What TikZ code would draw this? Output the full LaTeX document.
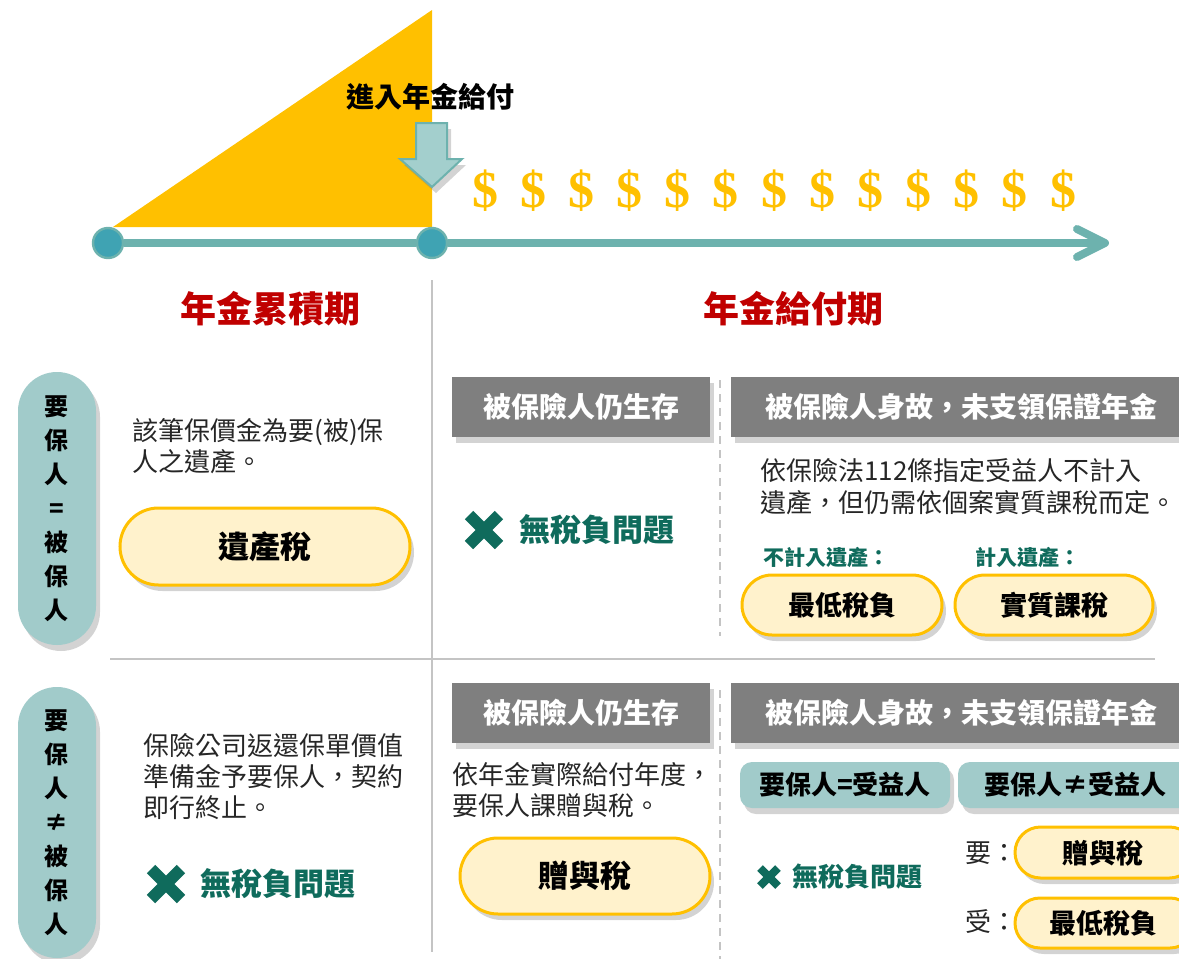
\documentclass[tikz,border=0pt]{standalone}
\usepackage{fontspec}
\setmainfont{Noto Sans CJK TC}
\newfontfamily\dollarfont{Liberation Serif}
\usetikzlibrary{shadows,shapes.misc}
\definecolor{gold}{HTML}{FFC000}
\definecolor{tline}{HTML}{6DB2AE}
\definecolor{tdot}{HTML}{3FA3B3}
\definecolor{afill}{HTML}{A3CFCD}
\definecolor{pteal}{HTML}{A1CBCA}
\definecolor{cream}{HTML}{FFF2CC}
\definecolor{hdr}{HTML}{7F7F7F}
\definecolor{hred}{HTML}{C00000}
\definecolor{dgreen}{HTML}{0F6B5C}
\definecolor{txt}{HTML}{262626}
\definecolor{sep}{HTML}{C4C4C4}
\tikzset{
  shd/.style={drop shadow={opacity=0.35,shadow xshift=2pt,shadow yshift=-3pt}},
  dot/.style={circle,fill=tdot,draw=tline,line width=1.2pt,minimum size=15pt,inner sep=0},
  dollar/.style={text=gold,font=\dollarfont\bfseries\fontsize{26}{26}\selectfont,inner sep=0},
  heading/.style={text=hred,font=\bfseries\fontsize{18}{18}\selectfont,inner sep=0},
  body/.style={text=txt,font=\fontsize{13}{15.5}\selectfont,align=left,anchor=west,inner sep=0},
  sidepill/.style={shd,rectangle,rounded corners=19.5pt,fill=pteal,minimum width=39pt,
     font=\bfseries\fontsize{12}{17}\selectfont,align=center,inner sep=0},
  hdrbox/.style={shd,rectangle,fill=hdr,minimum height=30pt,text=white,
     font=\bfseries\fontsize{14}{14}\selectfont,inner sep=0},
  cpill/.style={shd,rounded rectangle,fill=cream,draw=gold,line width=1.5pt,inner sep=0,
     font=\bfseries\fontsize{13.5}{13.5}\selectfont},
  tbox/.style={shd,rectangle,rounded corners=6pt,fill=pteal,minimum height=23pt,inner sep=0,
     font=\bfseries\fontsize{13}{13}\selectfont},
  notax/.style={text=dgreen,font=\bfseries\fontsize{15.5}{15.5}\selectfont,inner sep=0},
  xm/.style={dgreen,line cap=butt},
  seprule/.style={sep,line width=1pt},
  dashrule/.style={sep,line width=1pt,dash pattern=on 4pt off 3pt},
}
\begin{document}
\begin{tikzpicture}[x=0.5pt,y=-0.5pt]
\useasboundingbox (0,0) rectangle (1179,959);
\clip (0,0) rectangle (1179,959);
% triangle
\fill[gold] (113,227) -- (432,227) -- (432,10) -- cycle;
% timeline
\node[dot] (d1) at (108,243) {};
\node[dot] (d2) at (432,243) {};
\coordinate (tend) at (1105,243);
\draw[tline,line width=4pt] (d1.east) -- (d2.west);
\draw[tline,line width=4pt] (d2.east) -- ([xshift=-2pt]tend);
\draw[tline,line width=4pt,line cap=round,line join=round]
  ([shift={(-28,-14)}]tend) -- (tend) -- ([shift={(-28,14)}]tend);
% entry label and down arrow
\node[font=\bfseries\fontsize{14}{14}\selectfont,inner sep=0] (entry) at (430,97) {進入年金給付};
\draw[shd,fill=afill,draw=tline,line width=1pt]
  (416,123) -- (447,123) -- (447,159) -- (462,159) -- (432,187) -- (400,159) -- (416,159) -- cycle;
% dollars
\foreach \i in {0,...,12} {
  \node[dollar] (s\i) at ({485+48.17*\i},191) {\$};
}
% headings
\node[heading] (h1) at (270,309) {年金累積期};
\node[heading] (h2) at (793,309) {年金給付期};
% separators
\draw[seprule] (432,280) -- (432,952);
\draw[seprule] (110,659) -- (1155,659);
\draw[dashrule] (720,380) -- (720,636);
\draw[dashrule] (720,690) -- (720,959);
% side pills
\node[sidepill,minimum height=136.5pt] (p1) at (57,508.5) {要\\保\\人\\=\\被\\保\\人};
\node[sidepill,minimum height=135.5pt] (p2) at (57,822.5) {要\\保\\人\\≠\\被\\保\\人};
% ---- top row
\node[body] (t1) at (132,446.5) {該筆保價金為要(被)保\\人之遺產。};
\node[cpill,minimum width=145pt,minimum height=38.5pt,font=\bfseries\fontsize{15.5}{15.5}\selectfont] (c1) at (265,546.5) {遺產稅};
\node[hdrbox,minimum width=129pt] (hb1) at (581,407) {被保險人仍生存};
\node[hdrbox,minimum width=234.5pt] (hb2) at (965.5,407) {};
\node[text=white,font=\bfseries\fontsize{14}{14}\selectfont,inner sep=0] (hb2t) at (961,407) {被保險人身故，未支領保證年金};
\draw[xm,line width=6pt] (469,515) -- (499,545) (469,545) -- (499,515);
\node[notax] (n1) at (597,530) {無稅負問題};
\node[body,font=\fontsize{13}{16}\selectfont] (t2) at (760,487) {依保險法112條指定受益人不計入\\遺產，但仍需依個案實質課稅而定。};
\node[text=dgreen,font=\bfseries\fontsize{10.5}{10.5}\selectfont,anchor=west,inner sep=0] (l1) at (763,558) {不計入遺產：};
\node[text=dgreen,font=\bfseries\fontsize{10.5}{10.5}\selectfont,anchor=west,inner sep=0] (l2) at (975,558) {計入遺產：};
\node[cpill,minimum width=100pt,minimum height=30pt] (c2) at (842,605) {最低稅負};
\node[cpill,minimum width=99pt,minimum height=30pt] (c3) at (1054,605) {實質課稅};
% ---- bottom row
\node[body] (t3) at (143,777) {保險公司返還保單價值\\準備金予要保人，契約\\即行終止。};
\draw[xm,line width=6pt] (151,869) -- (181,899) (151,899) -- (181,869);
\node[notax] (n2) at (278,884) {無稅負問題};
\node[hdrbox,minimum width=129pt] (hb3) at (581,712.5) {被保險人仍生存};
\node[hdrbox,minimum width=234.5pt] (hb4) at (965.5,712.5) {};
\node[text=white,font=\bfseries\fontsize{14}{14}\selectfont,inner sep=0] (hb4t) at (961,712.5) {被保險人身故，未支領保證年金};
\node[body] (t4) at (452,790.5) {依年金實際給付年度，\\要保人課贈與稅。};
\node[cpill,minimum width=125pt,minimum height=38pt,font=\bfseries\fontsize{15.5}{15.5}\selectfont] (c4) at (585,876) {贈與稅};
\node[tbox,minimum width=105pt] (b1) at (845,785) {要保人=受益人};
\node[tbox,minimum width=121pt] (b2) at (1079,785) {};
\node[font=\bfseries\fontsize{13}{13}\selectfont,inner sep=0] (b2t) at (1075,785) {要保人≠受益人};
\draw[xm,line width=4pt] (760,868) -- (778,886) (760,886) -- (778,868);
\node[notax,font=\bfseries\fontsize{13}{13}\selectfont] (n3) at (857,877) {無稅負問題};
\node[body] (y1) at (965,853) {要：};
\node[body] (y2) at (965,922) {受：};
\node[cpill,minimum width=90pt,minimum height=25.5pt] (c5) at (1105,852.5) {};
\node[font=\bfseries\fontsize{13.5}{13.5}\selectfont,inner sep=0] (c5t) at (1103,853) {贈與稅};
\node[cpill,minimum width=90pt,minimum height=25pt] (c6) at (1105,923) {};
\node[font=\bfseries\fontsize{13.5}{13.5}\selectfont,inner sep=0] (c6t) at (1103,923) {最低稅負};
\end{tikzpicture}
\end{document}
